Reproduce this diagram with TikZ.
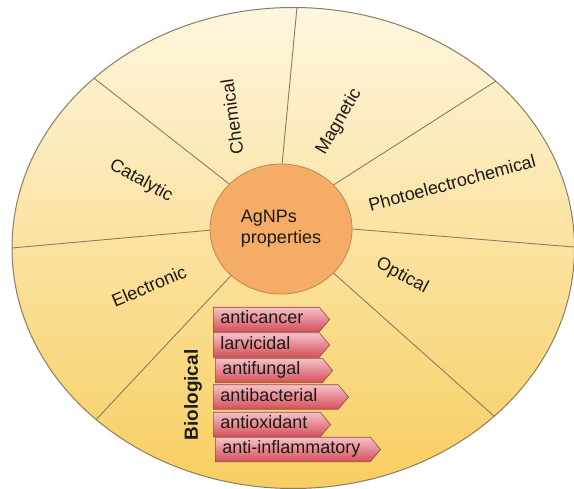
\documentclass[tikz,border=0pt]{standalone}
\usepackage{fontspec}
\setmainfont{Liberation Sans}
\usepackage{tikz}
\usetikzlibrary{shapes.geometric,shapes.symbols}

\definecolor{rimline}{RGB}{138,124,98}
\definecolor{creamtop}{RGB}{254,246,222}
\definecolor{creammid}{RGB}{252,232,176}
\definecolor{creambot}{RGB}{248,206,96}
\definecolor{corefill}{RGB}{245,172,102}
\definecolor{coreline}{RGB}{196,132,74}
\definecolor{tagtop}{RGB}{246,194,200}
\definecolor{tagbot}{RGB}{212,78,92}
\definecolor{tagline}{RGB}{150,72,62}
\definecolor{ink}{RGB}{30,26,22}

\begin{document}
\begin{tikzpicture}
  [
    x=1pt, y=-1pt,
    every node/.style={text=ink, font=\fontsize{18}{21}\selectfont},
    sector/.style={rotate=#1},
    divider/.style={draw=rimline, line width=0.9pt},
    tagbox/.style={signal, signal to=east, signal pointer angle=100,
      draw=tagline, line width=0.6pt, top color=tagtop, bottom color=tagbot,
      anchor=west, align=left, text width=#1, inner xsep=7pt, inner ysep=0pt,
      minimum height=24.5pt, text height=13pt, text depth=4pt}
  ]
    \useasboundingbox (0,0) rectangle (574,489);
    % outer disc
    \shade[top color=creamtop, middle color=creammid, bottom color=creambot]
      (293.25,248) ellipse [x radius=281.25, y radius=240.5];

    \node[ellipse, draw=coreline, fill=corefill, line width=0.8pt,
      minimum width=142pt, minimum height=130pt, align=left] (core) at (281,229)
      {AgNPs\\properties};

    \coordinate (rimA) at (297.5,2);
    \coordinate (rimB) at (507,74);
    \coordinate (rimC) at (580,247.5);
    \coordinate (rimD) at (504,425);
    \coordinate (rimE) at (92,424);
    \coordinate (rimF) at (4,248.7);
    \coordinate (rimG) at (90,75);

    \begin{scope}
      \clip (293.25,248) ellipse [x radius=281.25, y radius=240.5];
      \draw[divider] (core.89) -- (rimA);
      \draw[divider] (core.40) -- (rimB);
      \draw[divider] (core.0) -- (rimC);
      \draw[divider] (core.-40) -- (rimD);
      \draw[divider] (core.223) -- (rimE);
      \draw[divider] (core.181) -- (rimF);
      \draw[divider] (core.139) -- (rimG);
    \end{scope}
    \draw[rimline, line width=1pt]
      (293.25,248) ellipse [x radius=281.25, y radius=240.5];

    \node[sector=-29] (catalytic) at (141,181) {Catalytic};
    \node[sector=98] (chemical) at (232,117) {Chemical};
    \node[sector=60] (magnetic) at (339,122) {Magnetic};
    \node[sector=15] (photo) at (452,183) {Photoelectrochemical};
    \node[sector=-28] (optical) at (402,276) {Optical};
    \node[sector=23] (electronic) at (149,286) {Electronic};
    \node[sector=90, font=\fontsize{19}{22}\selectfont\bfseries] (biological)
      at (193,395) {Biological};

    \node[tagbox=92pt] (anticancer) at (213,319.5) {anticancer};
    \node[tagbox=92pt] (larvicidal) at (213,345) {larvicidal};
    \node[tagbox=93pt] (antifungal) at (215,370.5) {antifungal};
    \node[tagbox=111pt] (antibacterial) at (213,397) {antibacterial};
    \node[tagbox=93pt] (antioxidant) at (213,424.5) {antioxidant};
    \node[tagbox=141pt] (antiinflam) at (215,449.5) {anti-inflammatory};
  \end{tikzpicture}
\end{document}
